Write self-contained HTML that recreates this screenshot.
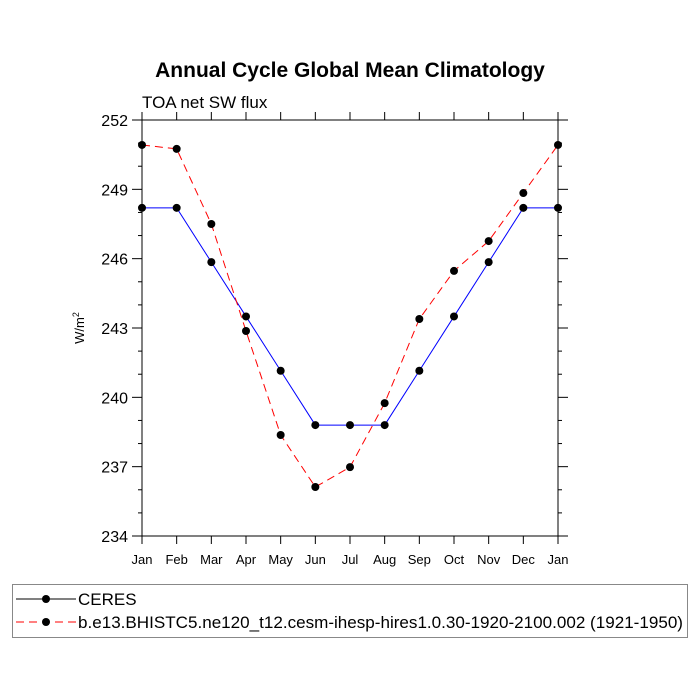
<!DOCTYPE html>
<html><head><meta charset="utf-8"><style>
body{margin:0;background:#fff}
svg{display:block;font-family:"Liberation Sans",sans-serif}
</style></head><body>
<svg id="c" width="700" height="700">
<text x="350" y="77" text-anchor="middle" font-size="21" font-weight="bold">Annual Cycle Global Mean Climatology</text>
<text x="142" y="108" font-size="17">TOA net SW flux</text>
<text transform="translate(84,328) rotate(-90)" text-anchor="middle" font-size="13">W/m<tspan dy="-5" font-size="9">2</tspan></text>
<g id="axes"></g><g id="series"></g>
<rect x="12.5" y="584.5" width="675" height="53" fill="none" stroke="#888"/>
<g>
<line x1="16" y1="599" x2="76" y2="599" stroke="#000"/><circle cx="46" cy="599" r="4"/>
<text x="78" y="605" font-size="17">CERES</text></g>
<g>
<line x1="16" y1="622" x2="76" y2="622" stroke="#f00" stroke-dasharray="8,5"/><circle cx="46" cy="622" r="4"/>
<text x="78" y="628" font-size="17" textLength="605" lengthAdjust="spacingAndGlyphs">b.e13.BHISTC5.ne120_t12.cesm-ihesp-hires1.0.30-1920-2100.002 (1921-1950)</text></g>
</svg>
<script>
const months=["Jan","Feb","Mar","Apr","May","Jun","Jul","Aug","Sep","Oct","Nov","Dec","Jan"];
const ceres=[248.2,248.2,245.85,243.5,241.15,238.8,238.8,238.8,241.15,243.5,245.85,248.2,248.2];
const model=[250.92,250.75,247.5,242.87,238.37,236.12,236.98,239.75,243.39,245.47,246.76,248.84,250.92];
const yTicks=[234,237,240,243,246,249,252];
const NS="http://www.w3.org/2000/svg";
const X0=142,X1=558,Y0=536,Y1=120,ymin=234,ymax=252;
const xs=i=>X0+(X1-X0)*i/(months.length-1);
const ys=v=>Y0-(Y0-Y1)*(v-ymin)/(ymax-ymin);
function mk(t,a,p){const e=document.createElementNS(NS,t);for(const k in a)e.setAttribute(k,a[k]);p.appendChild(e);return e;}
const ax=document.getElementById('axes'),sr=document.getElementById('series');
const fr=mk('rect',{x:X0,y:Y1,width:X1-X0,height:Y0-Y1,fill:'none',stroke:'#000'},ax);


months.forEach((m,i)=>{const x=xs(i);
mk('line',{x1:x,y1:Y0,x2:x,y2:Y0+8,stroke:'#000'},ax);
mk('line',{x1:x,y1:Y1,x2:x,y2:Y1-8,stroke:'#000'},ax);
const t=mk('text',{x:x,y:Y0+28,'text-anchor':'middle','font-size':13},ax);t.textContent=m;

});
for(let v=ymin;v<=ymax;v++){const y=ys(v),maj=(v-ymin)%3==0,L=maj?10:4;
mk('line',{x1:X0,y1:y,x2:X0-L,y2:y,stroke:'#000'},ax);
mk('line',{x1:X1,y1:y,x2:X1+L,y2:y,stroke:'#000'},ax);}
yTicks.forEach(v=>{const t=mk('text',{x:X0-14,y:ys(v)+6,'text-anchor':'end','font-size':16},ax);t.textContent=v;

});
function series(d,col,dash,name){
const p=mk('polyline',{points:d.map((v,i)=>xs(i)+','+ys(v)).join(' '),fill:'none',stroke:col,'stroke-width':1,'stroke-dasharray':dash},sr);


d.forEach((v,i)=>{const c=mk('circle',{cx:xs(i),cy:ys(v),r:4,fill:'#000'},sr);

});}
series(ceres,'#00f','none','ceres');
series(model,'#f00','8,5','model');
</script>
</body></html>
